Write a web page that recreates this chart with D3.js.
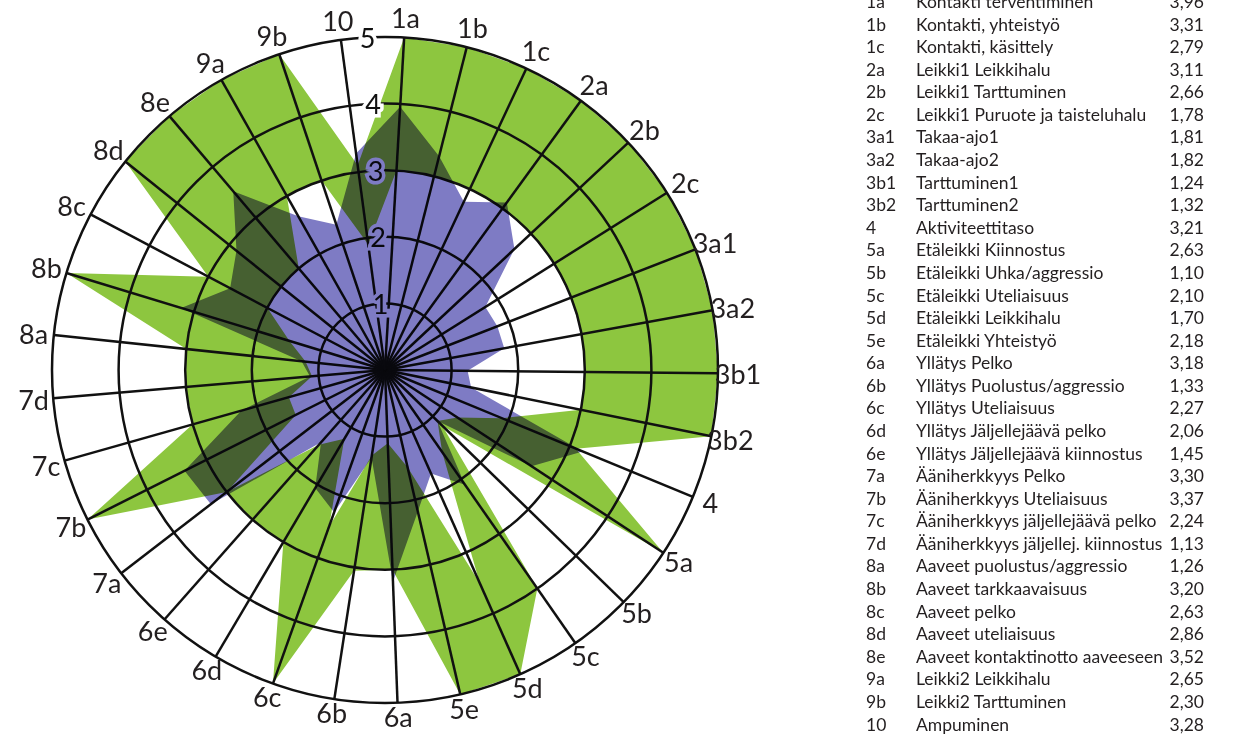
<!DOCTYPE html>
<html>
<head>
<meta charset="utf-8">
<script src="https://cdn.jsdelivr.net/npm/d3@7"></script>
<style>
  body { margin: 0; background: #fff; }
  svg { display: block; }
</style>
</head>
<body>
<script>
// Axis codes, descriptions and values
const codes = ["1a","1b","1c","2a","2b","2c","3a1","3a2","3b1","3b2","4","5a","5b","5c","5d","5e",
  "6a","6b","6c","6d","6e","7a","7b","7c","7d","8a","8b","8c","8d","8e","9a","9b","10"];
const names = ["Kontakti tervehtiminen","Kontakti, yhteistyö","Kontakti, käsittely","Leikki1 Leikkihalu",
  "Leikki1 Tarttuminen","Leikki1 Puruote ja taisteluhalu","Takaa-ajo1","Takaa-ajo2","Tarttuminen1",
  "Tarttuminen2","Aktiviteettitaso","Etäleikki Kiinnostus","Etäleikki Uhka/aggressio","Etäleikki Uteliaisuus",
  "Etäleikki Leikkihalu","Etäleikki Yhteistyö","Yllätys Pelko","Yllätys Puolustus/aggressio",
  "Yllätys Uteliaisuus","Yllätys Jäljellejäävä pelko","Yllätys Jäljellejäävä kiinnostus","Ääniherkkyys Pelko",
  "Ääniherkkyys Uteliaisuus","Ääniherkkyys jäljellejäävä pelko","Ääniherkkyys jäljellej. kiinnostus",
  "Aaveet puolustus/aggressio","Aaveet tarkkaavaisuus","Aaveet pelko","Aaveet uteliaisuus",
  "Aaveet kontaktinotto aaveeseen","Leikki2 Leikkihalu","Leikki2 Tarttuminen","Ampuminen"];
// mean values (purple)
const means = [3.96,3.31,2.79,3.11,2.66,1.78,1.81,1.82,1.24,1.32,3.21,2.63,1.10,2.10,1.70,2.18,
  3.18,1.33,2.27,2.06,1.45,3.30,3.37,2.24,1.13,1.26,3.20,2.63,2.86,3.52,2.65,2.30,3.28];
// green range: upper and lower limits
const upper = [5,5,5,5,5,5,5,5,5,5, 3.1,5,1.2,4,5,5, 3,3.05,5,3,3, 3,5,3,3, 3,5,3,5,5, 5,5,3.1];
const lower = [3,3,3,3,3,3,3,3,3,3, 1.9,1.3,1.1,1.5,3.5,1.5, 1.1,1.3,2.5,1.2,1.5, 3,1.5,1.5,1.1, 1.2,1.5,2,2,2, 3,3,1.9];
const rings = [1,2,3,4,5];

const W = 1241, H = 735;
const cx = 385, cy = 370, R = 333;
const offset = 3.3 * Math.PI / 180;
const font = "Lato, 'Open Sans', sans-serif";

const svg = d3.select("body").append("svg")
  .attr("width", W).attr("height", H);

const r = d3.scaleLinear().domain([0, 5]).range([0, R]);
const ang = d3.scaleLinear().domain([0, codes.length]).range([offset, offset + 2 * Math.PI]);

const g = svg.append("g").attr("transform", `translate(${cx},${cy})`);

const radial = d3.lineRadial()
  .angle((d, i) => ang(i))
  .radius(d => r(d))
  .curve(d3.curveLinearClosed);

// green band
g.append("path").attr("d", radial(upper)).attr("fill", "#8dc63f");
g.append("path").attr("d", radial(lower)).attr("fill", "#ffffff");

// grid
g.selectAll(".ring").data(rings).join("circle")
  .attr("r", d => r(d))
  .attr("fill", "none").attr("stroke", "#111").attr("stroke-width", 2.5);

g.selectAll(".spoke").data(codes).join("line")
  .attr("x1", 0).attr("y1", 0)
  .attr("x2", (d, i) => r(5) * Math.sin(ang(i)))
  .attr("y2", (d, i) => -r(5) * Math.cos(ang(i)))
  .attr("stroke", "#111").attr("stroke-width", 2.5);

// ring labels between the last and first axis
const labA = ang(-0.5);
g.selectAll(".ringlab").data(rings).join("text")
  .attr("x", d => r(d) * Math.sin(labA) - 2 - (d === 5 ? 3 : 0))
  .attr("y", d => -r(d) * Math.cos(labA))
  .attr("text-anchor", "middle").attr("dominant-baseline", "central")
  .attr("font-family", font).attr("font-size", 27)
  .attr("fill", "#111").attr("stroke", "#fff").attr("stroke-width", 7)
  .attr("paint-order", "stroke")
  .text(d => d);

// mean polygon, multiplied over everything below
g.append("path").attr("d", radial(means))
  .attr("fill", "#7e7bc4")
  .style("mix-blend-mode", "multiply");

// axis labels
const labR = i => R + 17 + 3 * Math.cos(ang(i));
g.selectAll(".axlab").data(codes).join("text")
  .attr("x", (d, i) => (labR(i) + 3) * Math.sin(ang(i)))
  .attr("y", (d, i) => -labR(i) * Math.cos(ang(i)))
  .attr("text-anchor", "middle").attr("dominant-baseline", "central")
  .attr("font-family", font).attr("font-size", 27)
  .attr("fill", "#231f20")
  .text(d => d);

// table on the right
const rowY = d3.scaleLinear().domain([0, codes.length - 1]).range([1.5, 724]);
const fmt = v => v.toFixed(2).replace(".", ",");
const tbl = svg.append("g")
  .attr("font-family", font).attr("font-size", 17.5)
  .attr("fill", "#231f20");
tbl.selectAll(".code").data(codes).join("text")
  .attr("x", 866).attr("y", (d, i) => rowY(i)).attr("dominant-baseline", "central")
  .text(d => d);
tbl.selectAll(".name").data(names).join("text")
  .attr("x", 916).attr("y", (d, i) => rowY(i)).attr("dominant-baseline", "central")
  .text(d => d);
tbl.selectAll(".val").data(means).join("text")
  .attr("x", 1204).attr("y", (d, i) => rowY(i)).attr("dominant-baseline", "central")
  .attr("text-anchor", "end")
  .text(d => fmt(d));
</script>
</body>
</html>
